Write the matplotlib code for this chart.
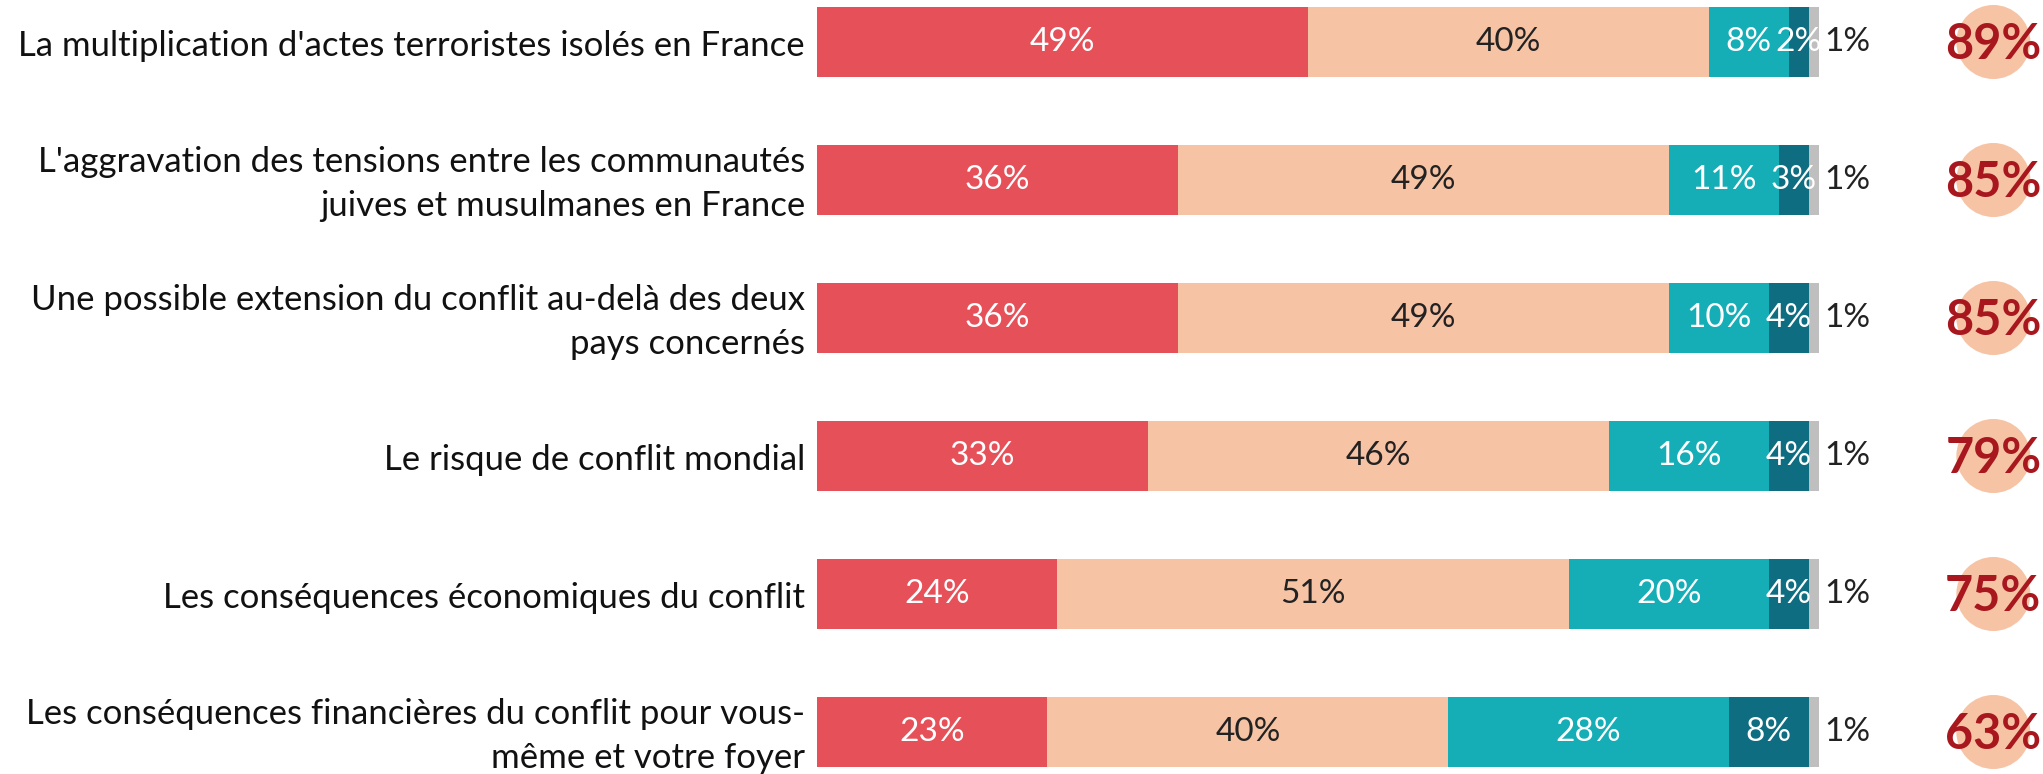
import matplotlib
matplotlib.use("Agg")
import matplotlib.pyplot as plt

plt.rcParams['font.family'] = ['Lato', 'DejaVu Sans']

categories = [
    "La multiplication d'actes terroristes isolés en France",
    "L'aggravation des tensions entre les communautés\njuives et musulmanes en France",
    "Une possible extension du conflit au-delà des deux\npays concernés",
    "Le risque de conflit mondial",
    "Les conséquences économiques du conflit",
    "Les conséquences financières du conflit pour vous-\nmême et votre foyer",
]
tres = [49, 36, 36, 33, 24, 23]
assez = [40, 49, 49, 46, 51, 40]
peu = [8, 11, 10, 16, 20, 28]
pas = [2, 3, 4, 4, 4, 8]
nsp = [1, 1, 1, 1, 1, 1]
totals = [89, 85, 85, 79, 75, 63]

series = [tres, assez, peu, pas, nsp]
colors = ['#E65159', '#F7C3A5', '#15AEB6', '#0F6D82', '#BFBFBF']
text_colors = ['white', '#222222', 'white', 'white', None]

W, H = 2043, 774
fig = plt.figure(figsize=(W / 100, H / 100), dpi=100)
x0, x1 = 817, 1819
ax = fig.add_axes([x0 / W, 0, (x1 - x0) / W, 1])
ax.set_xlim(0, 100)
ppu = 138.0
top_c = 42.0
ax.set_ylim(5 + (H - (top_c + 5 * ppu)) / ppu, -top_c / ppu)
ax.axis('off')

n = len(categories)
left = [0.0] * n
bar_h = 0.51
for vals, col, tc in zip(series, colors, text_colors):
    ax.barh(range(n), vals, left=left, height=bar_h, color=col, edgecolor='none')
    for i, v in enumerate(vals):
        cx = left[i] + v / 2
        if tc is not None:
            ax.text(cx, i, f"{v}%", ha='center', va='center', color=tc, fontsize=24)
        else:
            ax.text(left[i] + v + 0.5, i, f"{v}%", ha='left', va='center',
                    color='#222222', fontsize=24)
    left = [l + v for l, v in zip(left, vals)]

for i, c in enumerate(categories):
    ax.text(-1.2, i + 0.03, c, ha='right', va='center', fontsize=25, color='#111111',
            linespacing=1.45)

xc = 117.4
ax.scatter([xc] * n, range(n), s=2840, color='#F7C3A5', clip_on=False, zorder=3,
           edgecolors='none')
for i, t in enumerate(totals):
    ax.text(xc, i + 0.02, f"{t}%", ha='center', va='center', fontsize=35,
            fontweight='bold', color='#A8161E', zorder=4, clip_on=False)

fig.savefig('out.png', dpi=100)
